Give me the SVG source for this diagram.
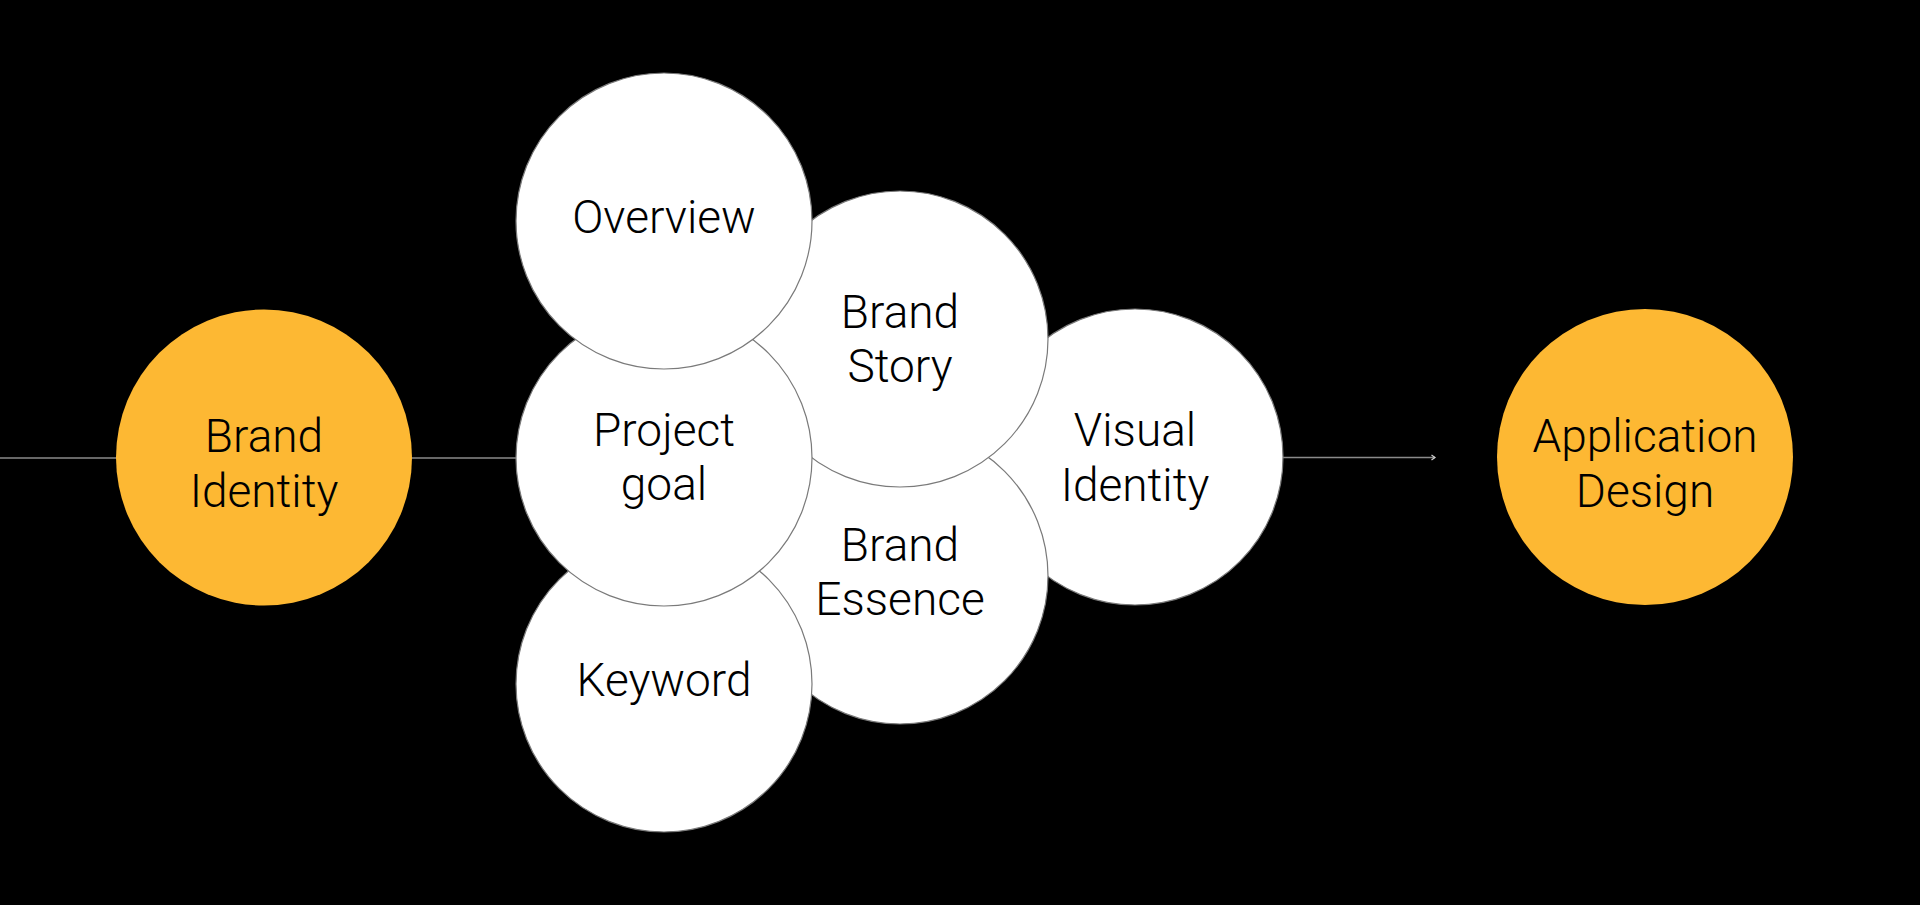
<svg xmlns="http://www.w3.org/2000/svg" width="1920" height="905" viewBox="0 0 1920 905">
<defs>
<style>
.bg{fill:#000}
.conn{stroke:#8a8a8a;stroke-width:1.5;fill:none}
.w{fill:#fff;stroke:#7a7a7a;stroke-width:1.2}
.o{fill:#FDB833}
text{font-family:Roboto,Inter,"Liberation Sans",sans-serif;font-weight:300;font-size:46px;fill:#000;text-anchor:middle}
</style>
<marker id="arr" markerWidth="8" markerHeight="8" refX="5" refY="4" orient="auto" markerUnits="userSpaceOnUse">
<path d="M1.5,1.5 L5,4 L1.5,6.5" fill="none" stroke="#cfcfcf" stroke-width="1.2"/>
</marker>
</defs>
<rect class="bg" x="0" y="0" width="1920" height="905"/>
<g id="connectors">
<line class="conn" x1="0" y1="458" x2="516" y2="458"/>
<line class="conn" x1="1283" y1="457.5" x2="1435" y2="457.5" marker-end="url(#arr)"/>
</g>
<g id="brand-identity">
<circle class="o" cx="264" cy="457.5" r="148"/>
<text x="264" y="452">Brand</text>
<text x="264" y="507">Identity</text>
</g>
<g id="visual-identity">
<circle class="w" cx="1135" cy="457" r="148"/>
<text x="1135" y="446">Visual</text>
<text x="1135" y="501">Identity</text>
</g>
<g id="brand-essence">
<circle class="w" cx="900" cy="576" r="148"/>
<text x="900" y="561">Brand</text>
<text x="900" y="615">Essence</text>
</g>
<g id="brand-story">
<circle class="w" cx="900" cy="339" r="148"/>
<text x="900" y="328">Brand</text>
<text x="900" y="382">Story</text>
</g>
<g id="keyword">
<circle class="w" cx="664" cy="684" r="148"/>
<text x="664" y="696">Keyword</text>
</g>
<g id="project-goal">
<circle class="w" cx="664" cy="458" r="148"/>
<text x="664" y="446">Project</text>
<text x="664" y="500">goal</text>
</g>
<g id="overview">
<circle class="w" cx="664" cy="221" r="148"/>
<text x="664" y="233">Overview</text>
</g>
<g id="application-design">
<circle class="o" cx="1645" cy="457" r="148"/>
<text x="1645" y="452">Application</text>
<text x="1645" y="507">Design</text>
</g>
</svg>
